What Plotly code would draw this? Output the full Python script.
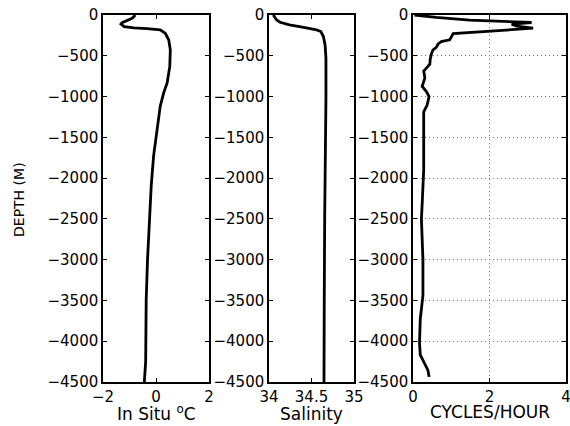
import plotly.graph_objects as go

# ---- data ----
temp_depth = [0, -40, -95, -110, -142, -158, -167, -183, -224, -305, -427, -630, -833, -955,
              -1118, -1443, -1728, -2093, -2276, -2500, -3000, -3500, -4000, -4250, -4500]
temp_val = [-0.78, -0.9, -1.28, -1.32, -1.2, -0.84, -0.34, 0.16, 0.35, 0.48, 0.54, 0.52, 0.42, 0.29,
            0.16, 0.04, -0.09, -0.18, -0.21, -0.25, -0.32, -0.37, -0.38, -0.39, -0.44]

sal_depth = [0, -61, -89, -122, -142, -163, -183, -203, -264, -366, -528, -1016, -1829, -2500, -3500, -4500]
sal_val = [34.05, 34.09, 34.13, 34.24, 34.36, 34.48, 34.56, 34.61, 34.64, 34.66, 34.67, 34.67, 34.66,
           34.655, 34.65, 34.647]

n_depth = [0, -29, -62, -83, -92, -112, -137, -162, -187, -208, -229, -271, -304, -325, -354, -396,
           -429, -479, -541, -604, -646, -688, -771, -833, -875, -938, -1000, -1104, -1188, -1479,
           -1896, -2313, -2500, -3000, -3437, -3729, -4021, -4167, -4271, -4354, -4437]
n_val = [0.04, 0.61, 1.48, 2.53, 3.10, 2.58, 2.71, 3.14, 2.36, 1.48, 1.05, 1.0, 0.96, 0.74, 0.66, 0.61,
         0.52, 0.48, 0.45, 0.44, 0.35, 0.28, 0.31, 0.26, 0.24, 0.35, 0.42, 0.37, 0.28, 0.28,
         0.28, 0.24, 0.22, 0.26, 0.26, 0.19, 0.17, 0.19, 0.31, 0.39, 0.42]

depth_ticks = [0, -500, -1000, -1500, -2000, -2500, -3000, -3500, -4000, -4500]
temp_ticks = [-2, 0, 2]
sal_ticks = [34, 34.5, 35]
n_ticks = [0, 2, 4]

W, H = 570, 426
FONT = "DejaVu Sans"

fig = go.Figure()
line = dict(color="black", width=2.8)
fig.add_trace(go.Scatter(x=temp_val, y=temp_depth, mode="lines", line=line, xaxis="x", yaxis="y"))
fig.add_trace(go.Scatter(x=sal_val, y=sal_depth, mode="lines", line=line, xaxis="x2", yaxis="y2"))
fig.add_trace(go.Scatter(x=n_val, y=n_depth, mode="lines", line=line, xaxis="x3", yaxis="y3"))

ytop, ybot = 1 - 15 / H, 1 - 382 / H
common = dict(showline=True, linecolor="black", linewidth=1.5, mirror="ticks", ticks="inside",
              ticklen=4, tickcolor="black", tickwidth=1, zeroline=False, automargin=False,
              ticklabeloverflow="allow",
              tickfont=dict(family=FONT, size=15, color="black"))
grid = dict(showgrid=True, gridcolor="#777777", griddash="1px,3px", gridwidth=1)

fig.update_layout(
    template="none",
    width=W, height=H, margin=dict(l=0, r=0, t=0, b=0),
    paper_bgcolor="white", plot_bgcolor="white", showlegend=False,
    xaxis=dict(domain=[103 / W, 209 / W], range=[-2, 2], tickvals=temp_ticks, anchor="y",
               showgrid=False, **common),
    yaxis=dict(domain=[ybot, ytop], range=[-4500, 0], tickvals=depth_ticks, anchor="x",
               showgrid=False, **common),
    xaxis2=dict(domain=[269 / W, 354 / W], range=[34, 35], tickvals=sal_ticks, anchor="y2",
                showgrid=False, **common),
    yaxis2=dict(domain=[ybot, ytop], range=[-4500, 0], tickvals=depth_ticks, anchor="x2",
                showgrid=False, **common),
    xaxis3=dict(domain=[413 / W, 566 / W], range=[0, 4], tickvals=n_ticks, anchor="y3",
                **grid, **common),
    yaxis3=dict(domain=[ybot, ytop], range=[-4500, 0], tickvals=depth_ticks, anchor="x3",
                **grid, **common),
)

tfont = dict(family=FONT, size=17, color="black")
fig.add_annotation(text="In Situ <sup>o</sup>C", x=0, xref="x", y=1 - 426 / H, yref="paper",
                   showarrow=False, font=tfont, xanchor="center", yanchor="bottom")
fig.add_annotation(text="Salinity", x=34.5, xref="x2", y=1 - 426 / H, yref="paper",
                   showarrow=False, font=tfont, xanchor="center", yanchor="bottom")
fig.add_annotation(text="CYCLES/HOUR", x=2, xref="x3", y=1 - 424 / H, yref="paper",
                   showarrow=False, font=tfont, xanchor="center", yanchor="bottom")
fig.add_annotation(text="DEPTH (M)", x=19 / W, xref="paper", y=1 - 200 / H, yref="paper",
                   showarrow=False, textangle=-90, font=dict(family=FONT, size=14, color="black"),
                   xanchor="center", yanchor="middle")

fig.write_html("out.html")
